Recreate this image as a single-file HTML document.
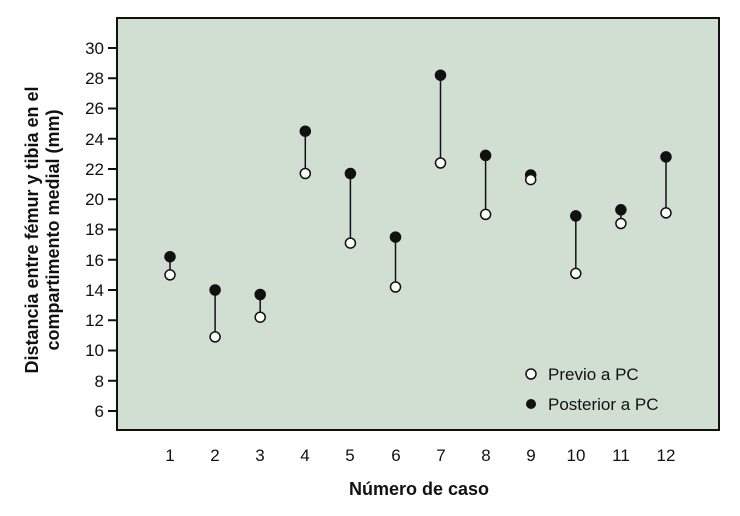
<!DOCTYPE html><html><head><style>body{margin:0;background:#fff}</style></head><body>
<svg width="740" height="511" xmlns="http://www.w3.org/2000/svg" font-family="Liberation Sans, sans-serif">
<rect x="117" y="18" width="602" height="412" fill="#d1dfd3" stroke="#111" stroke-width="2"/>
<g stroke="#111" stroke-width="2">
<line x1="108" x2="117" y1="48" y2="48"/><line x1="108" x2="117" y1="78.25" y2="78.25"/><line x1="108" x2="117" y1="108.5" y2="108.5"/><line x1="108" x2="117" y1="138.75" y2="138.75"/><line x1="108" x2="117" y1="169" y2="169"/><line x1="108" x2="117" y1="199.25" y2="199.25"/><line x1="108" x2="117" y1="229.5" y2="229.5"/><line x1="108" x2="117" y1="259.75" y2="259.75"/><line x1="108" x2="117" y1="290" y2="290"/><line x1="108" x2="117" y1="320.25" y2="320.25"/><line x1="108" x2="117" y1="350.5" y2="350.5"/><line x1="108" x2="117" y1="380.75" y2="380.75"/><line x1="108" x2="117" y1="411" y2="411"/>
</g>
<g font-size="17" text-anchor="end" fill="#111">
<text x="104" y="54">30</text><text x="104" y="84">28</text><text x="104" y="114">26</text><text x="104" y="145">24</text><text x="104" y="175">22</text><text x="104" y="205">20</text><text x="104" y="235">18</text><text x="104" y="266">16</text><text x="104" y="296">14</text><text x="104" y="326">12</text><text x="104" y="356">10</text><text x="104" y="387">8</text><text x="104" y="417">6</text>
</g>
<g font-size="17" text-anchor="middle" fill="#111">
<text x="170" y="461">1</text><text x="215" y="461">2</text><text x="260" y="461">3</text><text x="305" y="461">4</text><text x="350" y="461">5</text><text x="396" y="461">6</text><text x="441" y="461">7</text><text x="486" y="461">8</text><text x="531" y="461">9</text><text x="576" y="461">10</text><text x="621" y="461">11</text><text x="666" y="461">12</text>
</g>
<text x="419" y="495" font-size="18" font-weight="bold" text-anchor="middle" fill="#111">Número de caso</text>
<g transform="translate(38,230) rotate(-90)" font-size="18" font-weight="bold" text-anchor="middle" fill="#111">
<text x="0" y="0">Distancia entre fémur y tibia en el</text><text x="0" y="21">compartimento medial (mm)</text></g>
<g stroke="#111" stroke-width="1.5">
<line x1="170" x2="170" y1="274.9" y2="256.7"/>
<line x1="215.1" x2="215.1" y1="336.9" y2="290"/>
<line x1="260.2" x2="260.2" y1="317.2" y2="294.5"/>
<line x1="305.3" x2="305.3" y1="173.5" y2="131.2"/>
<line x1="350.4" x2="350.4" y1="243.1" y2="173.5"/>
<line x1="395.5" x2="395.5" y1="287" y2="237.1"/>
<line x1="440.5" x2="440.5" y1="163" y2="75.2"/>
<line x1="485.6" x2="485.6" y1="214.4" y2="155.4"/>
<line x1="530.7" x2="530.7" y1="179.6" y2="175"/>
<line x1="575.8" x2="575.8" y1="273.4" y2="215.9"/>
<line x1="620.9" x2="620.9" y1="223.5" y2="209.8"/>
<line x1="666" x2="666" y1="212.9" y2="156.9"/>
<g fill="#111">
<circle cx="170" cy="256.7" r="5"/><circle cx="215.1" cy="290" r="5"/><circle cx="260.2" cy="294.5" r="5"/><circle cx="305.3" cy="131.2" r="5"/><circle cx="350.4" cy="173.5" r="5"/><circle cx="395.5" cy="237.1" r="5"/><circle cx="440.5" cy="75.2" r="5"/><circle cx="485.6" cy="155.4" r="5"/><circle cx="530.7" cy="175" r="5"/><circle cx="575.8" cy="215.9" r="5"/><circle cx="620.9" cy="209.8" r="5"/><circle cx="666" cy="156.9" r="5"/>
</g>
<g fill="#fff">
<circle cx="170" cy="274.9" r="5"/><circle cx="215.1" cy="336.9" r="5"/><circle cx="260.2" cy="317.2" r="5"/><circle cx="305.3" cy="173.5" r="5"/><circle cx="350.4" cy="243.1" r="5"/><circle cx="395.5" cy="287" r="5"/><circle cx="440.5" cy="163" r="5"/><circle cx="485.6" cy="214.4" r="5"/><circle cx="530.7" cy="179.6" r="5"/><circle cx="575.8" cy="273.4" r="5"/><circle cx="620.9" cy="223.5" r="5"/><circle cx="666" cy="212.9" r="5"/>
</g>
</g>
<circle cx="531" cy="374" r="5" fill="#fff" stroke="#111" stroke-width="1.5"/>
<circle cx="531" cy="404" r="5" fill="#111"/>
<text x="548" y="380" font-size="17" fill="#111">Previo a PC</text>
<text x="548" y="410" font-size="17" fill="#111">Posterior a PC</text>
</svg></body></html>
